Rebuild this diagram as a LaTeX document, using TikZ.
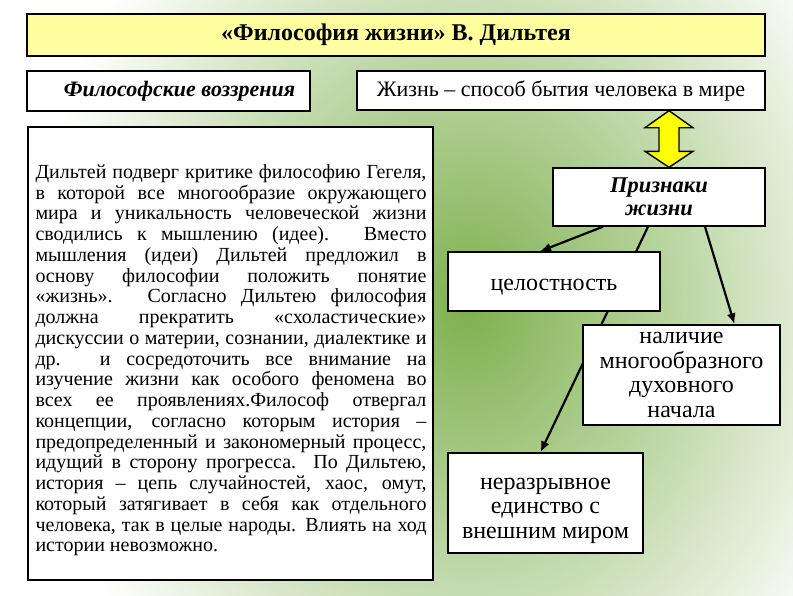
\documentclass[tikz,border=0pt]{standalone}
\usepackage{fontspec}
\setmainfont{Liberation Serif}
\newfontfamily\slideserif{Liberation Serif}
\usetikzlibrary{arrows.meta, calc, positioning}
\definecolor{titleyellow}{RGB}{255,255,160}
\definecolor{leafgreen}{RGB}{126,176,78}
\definecolor{arrowyellow}{RGB}{255,255,0}
\pgfdeclarelayer{shade}
\pgfdeclarelayer{back}
\pgfsetlayers{shade,back,main}
\tikzset{
  box/.style={draw, line width=1.4pt, fill=white, align=center, inner sep=0pt},
  boxfont/.style={font=\slideserif\fontsize{24}{24.6}\selectfont},
  link/.style={line width=2.2pt, -{Latex[length=11pt,width=9pt]}},
}

\begin{document}
\begin{tikzpicture}[x=1pt, y=-1pt]
  \useasboundingbox (0,0) rectangle (793,595);
  % background
  \begin{pgfonlayer}{shade}
    \fill[white] (0,0) rectangle (793,595);
    \begin{scope}
      \clip (0,0) rectangle (793,595);
      \shade[inner color=leafgreen, outer color=white] (468,305) ellipse (440 and 520);
    \end{scope}
  \end{pgfonlayer}

  % boxes
  \node[box, fill=titleyellow, minimum width=738pt, minimum height=42pt,
    font=\slideserif\fontsize{24}{26}\selectfont\bfseries] (title) at (396,35)
    {«Философия жизни» В. Дильтея};
  \node[box, minimum width=283pt, minimum height=40pt,
    font=\slideserif\fontsize{22}{24}\selectfont\bfseries\itshape] (views) at (168.5,91)
    {\hspace*{22pt}Философские воззрения};
  \node[box, minimum width=408pt, minimum height=39pt,
    font=\slideserif\fontsize{22}{24}\selectfont] (life) at (561,90.5)
    {Жизнь – способ бытия человека в мире};
  \node[box, minimum width=405pt, minimum height=453pt] (textbox) at (230.5,353.5) {};
  \node[anchor=base west, inner sep=0pt, text width=391pt, align=justify,
    font=\slideserif\fontsize{20}{20.75}\selectfont]
    (body) at ([xshift=8pt, yshift=-52pt]textbox.north west)
    {Дильтей подверг критике философию Гегеля,\linebreak
    в которой все многообразие окружающего\linebreak
    мира и уникальность человеческой жизни\linebreak
    сводились к мышлению (идее). Вместо\linebreak
    мышления (идеи) Дильтей предложил в\linebreak
    основу философии положить понятие\linebreak
    «жизнь». Согласно Дильтею философия\linebreak
    должна прекратить «схоластические»\linebreak
    дискуссии о материи, сознании, диалектике и\linebreak
    др. и сосредоточить все внимание на\linebreak
    изучение жизни как особого феномена во\linebreak
    всех ее проявлениях.Философ отвергал\linebreak
    концепции, согласно которым история –\linebreak
    предопределенный и закономерный процесс,\linebreak
    идущий в сторону прогресса. По Дильтею,\linebreak
    история – цепь случайностей, хаос, омут,\linebreak
    который затягивает в себя как отдельного\linebreak
    человека, так в целые народы. Влиять на ход\linebreak
    истории невозможно.};

  \node[box, minimum width=212pt, minimum height=58pt,
    font=\slideserif\fontsize{22.5}{23}\selectfont\bfseries\itshape] (signs) at (659,197)
    {Признаки\\ жизни};
  \node[box, boxfont, minimum width=212pt, minimum height=59pt] (whole) at (554,281.5)
    {\raisebox{-6pt}[\height][\depth]{целостность}};
  \node[box, boxfont, minimum width=197pt, minimum height=100pt] (spirit) at (681.5,375)
    {наличие\\ многообразного\\ духовного\\ начала};
  \node[box, boxfont, minimum width=195pt, minimum height=100pt] (unity) at (545.5,503)
    {\raisebox{-6pt}[\height][\depth]{\begin{tabular}{@{}c@{}}неразрывное\\ единство с\\ внешним миром\end{tabular}}};

  % yellow double arrow
  \coordinate (up) at (life.south -| 669,0);
  \coordinate (dn) at (signs.north -| 669,0);
  \filldraw[fill=arrowyellow, draw=black, line width=1.4pt, line join=miter]
    (up) -- ++(24,17) -- ++(-14,0) -- ($(dn)+(10,-16)$) -- ++(14,0) -- (dn)
    -- ++(-24,-16) -- ++(14,0) -- ($(up)+(-10,17)$) -- ++(-14,0) -- cycle;

  % connectors
  \draw[link] ([xshift=-56pt]signs.south) -- ([xshift=-14pt]whole.north);
  \draw[link] ([xshift=46pt]signs.south) -- ([xshift=53pt]spirit.north);
  \begin{pgfonlayer}{back}
    \draw[link] ([xshift=-11pt]signs.south) -- ([xshift=-5pt]unity.north);
  \end{pgfonlayer}
\end{tikzpicture}
\end{document}
